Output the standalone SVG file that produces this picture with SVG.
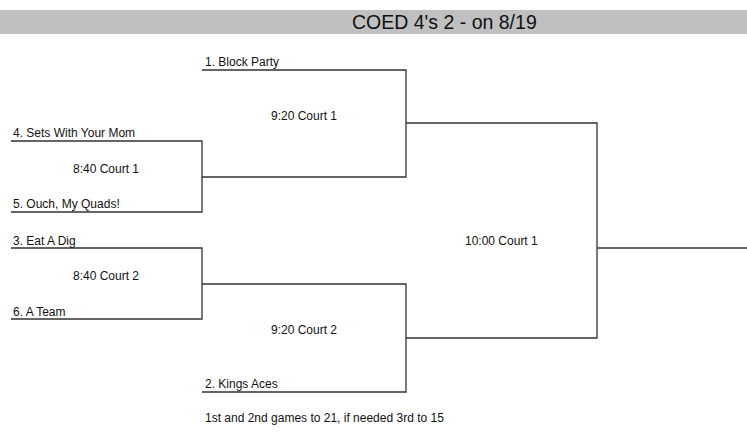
<svg xmlns="http://www.w3.org/2000/svg" width="747" height="437" viewBox="0 0 747 437">
<style>
  .ln { stroke:#333; stroke-width:1.3; fill:none; }
  text { font-family:"Liberation Sans", Arial, sans-serif; font-size:12px; fill:#111; }
  .title { font-size:19.5px; }
</style>
<rect width="747" height="437" fill="#fff"/>
<g id="header">
  <rect x="0" y="10" width="747" height="24" fill="#c0c0c0"/>
  <text class="title" x="352" y="29">COED 4's 2 - on 8/19</text>
</g>
<g id="connectors">
  <path class="ln" d="M202 70 H406 V177 H202"/>
  <path class="ln" d="M11 141 H202 V212 H11"/>
  <path class="ln" d="M11 248 H202 V319 H11"/>
  <path class="ln" d="M202 284 H406 V392 H202"/>
  <path class="ln" d="M406 123 H597 V338 H406"/>
  <path class="ln" d="M597 248 H747"/>
</g>
<g id="team1"><text x="205" y="66">1. Block Party</text></g>
<g id="team4"><text x="13" y="137">4. Sets With Your Mom</text></g>
<g id="team5"><text x="13" y="208">5. Ouch, My Quads!</text></g>
<g id="team3"><text x="13" y="245">3. Eat A Dig</text></g>
<g id="team6"><text x="13" y="316">6. A Team</text></g>
<g id="team2"><text x="205" y="388">2. Kings Aces</text></g>
<g id="game1"><text x="73" y="173">8:40 Court 1</text></g>
<g id="game2"><text x="73" y="280">8:40 Court 2</text></g>
<g id="game3"><text x="271" y="120">9:20 Court 1</text></g>
<g id="game4"><text x="271" y="334">9:20 Court 2</text></g>
<g id="final"><text x="465" y="245">10:00 Court 1</text></g>
<g id="note"><text x="205" y="422">1st and 2nd games to 21, if needed 3rd to 15</text></g>
</svg>
